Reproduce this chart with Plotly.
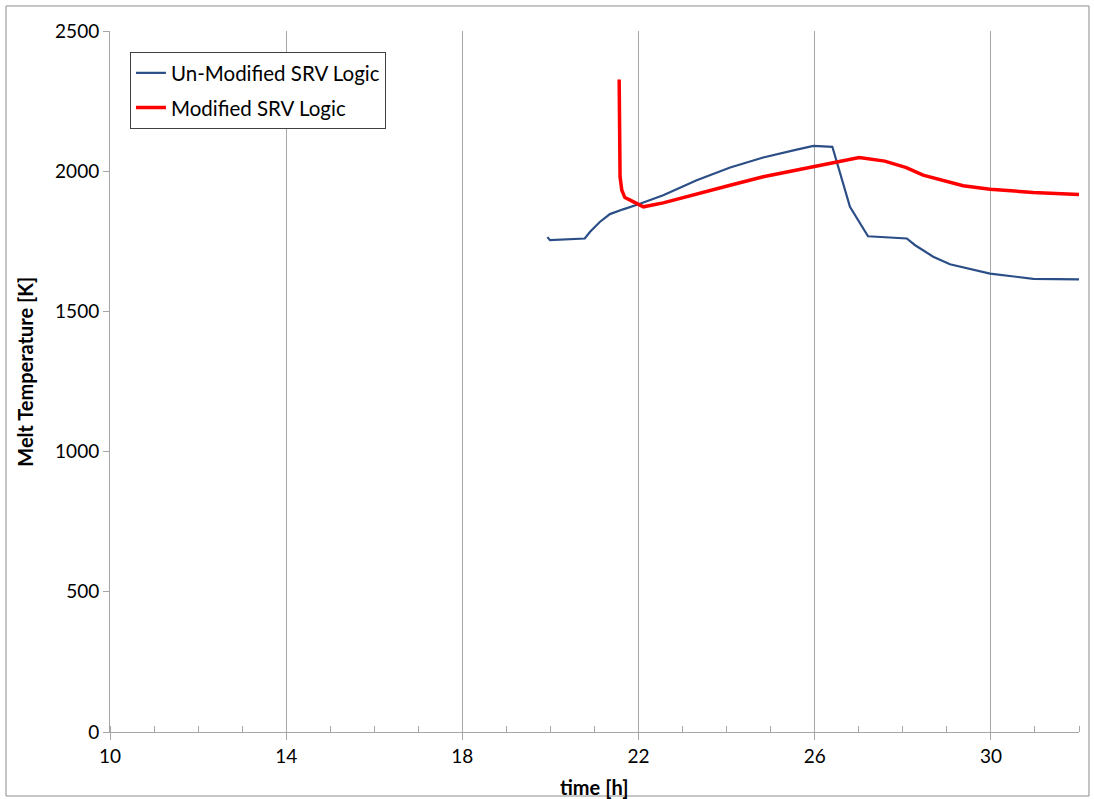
import plotly.graph_objects as go

# Un-Modified SRV Logic
t_unmod = [19.93, 19.99, 20.78, 20.90, 21.12, 21.35, 21.65, 22.0, 22.56, 23.32, 24.08,
           24.83, 25.59, 25.97, 26.40, 26.57, 26.80, 27.21, 28.09, 28.28, 28.69, 29.07,
           29.98, 30.96, 32.0]
T_unmod = [1765, 1754, 1760, 1784, 1819, 1847, 1864, 1882, 1914, 1968, 2013,
           2049, 2077, 2090, 2087, 1992, 1873, 1768, 1760, 1736, 1695, 1668,
           1635, 1616, 1614]

# Modified SRV Logic
t_mod = [21.56, 21.58, 21.62, 21.69, 21.81, 22.11, 22.56, 23.32, 24.08, 24.83, 25.97,
         26.42, 27.01, 27.59, 28.08, 28.46, 29.37, 29.98, 30.96, 32.0]
T_mod = [2327, 1980, 1932, 1906, 1897, 1873, 1887, 1920, 1950, 1980, 2018,
         2030, 2049, 2036, 2013, 1986, 1948, 1936, 1924, 1917]

x_ticks = [10, 14, 18, 22, 26, 30]
y_ticks = [0, 500, 1000, 1500, 2000, 2500]

font = "Lato, Liberation Sans, sans-serif"

fig = go.Figure()
fig.add_trace(go.Scatter(x=t_unmod, y=T_unmod, mode="lines", name="Un-Modified SRV Logic",
                         legendgroup="a",
                         line=dict(color="#2B4E86", width=2.2)))
fig.add_trace(go.Scatter(x=t_mod, y=T_mod, mode="lines", name="Modified SRV Logic",
                         legendgroup="b",
                         line=dict(color="#FF0000", width=3.5)))

fig.update_layout(
    width=1094, height=799,
    margin=dict(l=110, r=15, t=31, b=67),
    paper_bgcolor="white", plot_bgcolor="white",
    font=dict(family=font, size=19, color="black"),
    showlegend=True,
    legend=dict(x=0.0206, y=0.970, xanchor="left", yanchor="top",
                bgcolor="white", bordercolor="#404040", borderwidth=1,
                font=dict(size=20.5, family=font), itemwidth=30,
                traceorder="grouped", tracegroupgap=5),
    xaxis=dict(range=[10, 32], tickvals=x_ticks, showgrid=True, gridcolor="#A6A6A6",
               gridwidth=1, showline=True, linecolor="#A6A6A6", linewidth=1,
               ticks="outside", ticklen=7, tickcolor="#A6A6A6", zeroline=False,
               automargin=False,
               minor=dict(dtick=1, tick0=10, ticks="inside", ticklen=6, tickcolor="#A6A6A6",
                          showgrid=False),
               tickfont=dict(size=19)),
    yaxis=dict(range=[0, 2500], tickvals=y_ticks, showgrid=False, showline=True,
               linecolor="#A6A6A6", linewidth=1, ticks="outside", ticklen=6,
               tickcolor="#A6A6A6", zeroline=False, automargin=False,
               tickfont=dict(size=19)),
)

fig.add_annotation(text="<b>time [h]</b>", xref="paper", yref="paper", x=0.499, y=-0.0785,
                   showarrow=False, xanchor="center", yanchor="middle",
                   font=dict(size=20, family=font, color="black"))
fig.add_annotation(text="<b>Melt Temperature [K]</b>", xref="paper", yref="paper",
                   x=-0.0877, y=0.514, textangle=-90, showarrow=False,
                   xanchor="center", yanchor="middle",
                   font=dict(size=20, family=font, color="black"))

fig.add_shape(type="rect", xref="paper", yref="paper",
              x0=-0.1073, x1=1.0103, y0=-0.0913, y1=1.0357,
              line=dict(color="#8C8C8C", width=1), fillcolor="rgba(0,0,0,0)")

fig.write_html("out.html")
